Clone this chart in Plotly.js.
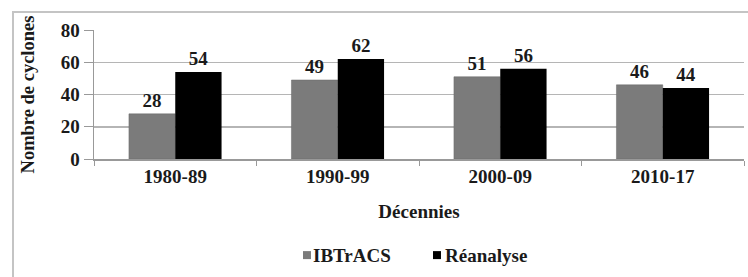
<!DOCTYPE html>
<html>
<head>
<meta charset="utf-8">
<script src="https://cdn.plot.ly/plotly-3.0.1.min.js"></script>
<style>
  html, body { margin: 0; padding: 0; background: #fff; }
  #wrap { position: relative; width: 748px; height: 277px; overflow: hidden; background: #fff; }
  #frame { position: absolute; left: 12px; top: 11px; width: 800px; height: 400px; border: 2px solid #c4c4c4; box-sizing: border-box; pointer-events: none; }
  #chart { position: absolute; left: 0; top: 0; width: 748px; height: 277px; }
</style>
</head>
<body>
<div id="wrap">
  <div id="chart"></div>
  <div id="frame"></div>
</div>
<script>
const decades = ["1980-89", "1990-99", "2000-09", "2010-17"];
const ibtracs = [28, 49, 51, 46];
const reanalyse = [54, 62, 56, 44];
const yTicks = [0, 20, 40, 60, 80];
const seriesNames = ["IBTrACS", "Réanalyse"];
const seriesColors = ["#7b7b7b", "#000000"];

const fontFam = '"Liberation Serif", "Times New Roman", serif';
const txt = (size) => ({ family: fontFam, size: size, color: '#1a1a1a', weight: 'bold' });

const traces = [
  {
    type: 'bar', name: seriesNames[0], x: decades, y: ibtracs,
    marker: { color: seriesColors[0], line: { color: '#6a6a6a', width: 0.5 } },
    text: ibtracs.map(String), textposition: 'outside', cliponaxis: false,
    textfont: txt(19), showlegend: false
  },
  {
    type: 'bar', name: seriesNames[1], x: decades, y: reanalyse,
    marker: { color: seriesColors[1] },
    text: reanalyse.map(String), textposition: 'outside', cliponaxis: false,
    textfont: txt(19), showlegend: false
  }
];

// custom legend (small square keys like the original)
const legendSymX = [0.3215, 0.5215];
const legendTxtX = [0.3345, 0.5375];
const legendY = -0.745;
const symW = 0.0123, symH = 0.062;
const annotations = [];
const shapes = [];
seriesNames.forEach((n, i) => {
  shapes.push({
    type: 'rect', xref: 'paper', yref: 'paper',
    x0: legendSymX[i], x1: legendSymX[i] + symW,
    y0: legendY - symH / 2, y1: legendY + symH / 2,
    fillcolor: seriesColors[i], line: { width: 0 }
  });
  annotations.push({
    xref: 'paper', yref: 'paper', x: legendTxtX[i], y: legendY,
    xanchor: 'left', yanchor: 'middle', showarrow: false,
    text: n, font: txt(19)
  });
});

const layout = {
  width: 748, height: 277,
  margin: { l: 94, r: 4, t: 30, b: 118 },
  paper_bgcolor: 'rgba(0,0,0,0)', plot_bgcolor: '#fff',
  barmode: 'group', bargap: 0.43, bargroupgap: 0,
  font: txt(19),
  xaxis: {
    type: 'category', tickson: 'boundaries', ticks: 'outside', ticklen: 5, tickcolor: '#999',
    showline: true, linecolor: '#999', linewidth: 1.5,
    tickfont: txt(19),
    title: { text: 'Décennies', standoff: 18, font: txt(19) }
  },
  yaxis: {
    range: [0, 80], tickvals: yTicks, ticktext: yTicks.map(String),
    ticks: 'outside', ticklen: 9, tickcolor: '#999',
    showline: true, linecolor: '#999', linewidth: 1.5,
    showgrid: true, gridcolor: '#b5b5b5', gridwidth: 1.5, zeroline: false,
    tickfont: txt(19),
    title: { text: 'Nombre de cyclones', standoff: 21, font: txt(18.5) }
  },
  showlegend: false,
  shapes: shapes,
  annotations: annotations
};

Plotly.newPlot('chart', traces, layout, { displayModeBar: false, staticPlot: true });
</script>
</body>
</html>
